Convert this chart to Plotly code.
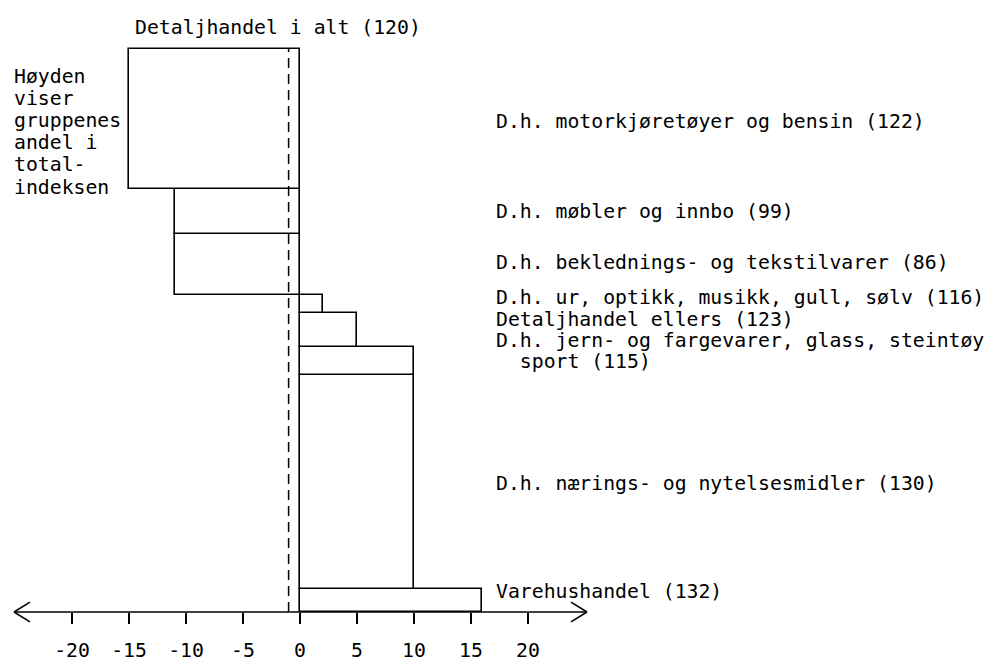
import numpy as np
import plotly.graph_objects as go

# Data (bottom -> top)
groups = ["Varehushandel (132)",
          "D.h. nærings- og nytelsesmidler (130)",
          "D.h. jern- og fargevarer, glass, steintøy sport (115)",
          "Detaljhandel ellers (123)",
          "D.h. ur, optikk, musikk, gull, sølv (116)",
          "D.h. beklednings- og tekstilvarer (86)",
          "D.h. møbler og innbo (99)",
          "D.h. motorkjøretøyer og bensin (122)"]
deviation = [16, 10, 10, 5, 2, -11, -11, -15]
share = [4.1, 38.0, 4.9, 6.1, 3.2, 10.7, 8.0, 25.0]
total_line = -1
tick_vals = [-20, -15, -10, -5, 0, 5, 10, 15, 20]
tick_text = ["-20", "-15", "-10", "-5", "0", "5", "10", "15", "20"]

W, H = 993, 662
PX_PER_X = 11.4
ZERO_PX = 300
AXIS_PX = 618
PX_PER_Y = 5.69

tops = np.cumsum(share)
centers = tops - np.array(share) / 2

FONT = "DejaVu Sans Mono"
FS = 19.8

fig = go.Figure()
fig.add_trace(go.Bar(
    orientation="h", x=deviation, y=centers, width=share, base=0,
    marker=dict(color="white", line=dict(color="black", width=1.6)),
    cliponaxis=False, hoverinfo="skip", showlegend=False))

xr = [-ZERO_PX / PX_PER_X, (W - ZERO_PX) / PX_PER_X]
yr = [0, AXIS_PX / PX_PER_Y]

def ypx(p):
    return (AXIS_PX - p) / PX_PER_Y

def xpx(p):
    return (p - ZERO_PX) / PX_PER_X

shapes = []
# dashed total line
shapes.append(dict(type="line", x0=total_line, x1=total_line, y0=0, y1=tops[-1],
                   xref="x", yref="y", line=dict(color="black", width=1.5, dash="10px,6px")))
# horizontal axis with open arrowheads
L, R = xpx(14), xpx(587)
shapes.append(dict(type="line", x0=L, x1=R, y0=0, y1=0, xref="x", yref="paper",
                   line=dict(color="black", width=1.5)))
hl, hh = 16 / PX_PER_X, 10 / AXIS_PX
for tip, sgn in [(L, 1), (R, -1)]:
    for d in (hh, -hh):
        shapes.append(dict(type="line", x0=tip, y0=0, x1=tip + sgn * hl, y1=d,
                           xref="x", yref="paper", line=dict(color="black", width=1.5)))

annotations = []
def txt(s, xp, yp):
    annotations.append(dict(text=s, x=xpx(xp), y=ypx(yp), xref="x", yref="y",
                            xanchor="left", yanchor="middle", showarrow=False,
                            font=dict(family=FONT, size=FS, color="black")))

txt("Detaljhandel i alt (120)", 133, 28)
for i, line in enumerate(["Høyden", "viser", "gruppenes", "andel i", "total-", "indeksen"]):
    txt(line, 12, 77 + i * 22.4)

label_lines = [
    ("D.h. motorkjøretøyer og bensin (122)", 123),
    ("D.h. møbler og innbo (99)", 214),
    ("D.h. beklednings- og tekstilvarer (86)", 265),
    ("D.h. ur, optikk, musikk, gull, sølv (116)", 300.5),
    ("Detaljhandel ellers (123)", 323),
    ("D.h. jern- og fargevarer, glass, steintøy", 344),
    ("  sport (115)", 365),
    ("D.h. nærings- og nytelsesmidler (130)", 488),
    ("Varehushandel (132)", 597),
]
for s, yp in label_lines:
    txt(s, 494, yp)

fig.update_layout(
    width=W, height=H, margin=dict(l=0, r=0, t=0, b=H - AXIS_PX),
    paper_bgcolor="white", plot_bgcolor="white",
    xaxis=dict(range=xr, showgrid=False, zeroline=False, showline=False,
               ticks="outside", ticklen=11, tickwidth=1.5, tickcolor="black",
               tickvals=tick_vals, ticktext=tick_text, ticklabelstandoff=9,
               tickfont=dict(family=FONT, size=FS, color="black"), fixedrange=True),
    yaxis=dict(range=yr, visible=False, fixedrange=True),
    shapes=shapes, annotations=annotations, bargap=0, showlegend=False,
)
fig.write_html("out.html", config={"displayModeBar": False},
               post_script="document.body.style.margin='0';")
